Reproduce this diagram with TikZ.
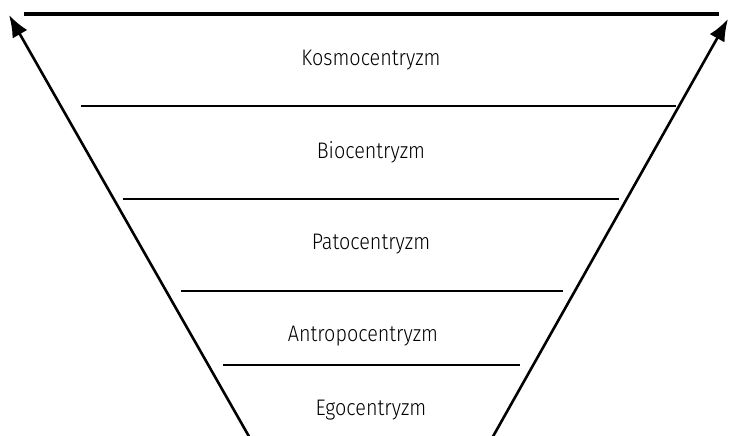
\documentclass[tikz,border=0pt]{standalone}
\usepackage{fontspec}
\setmainfont{Fira Sans Light}[FakeStretch=0.88]
\usetikzlibrary{arrows.meta}
\begin{document}
\begin{tikzpicture}[x=1pt,y=-1pt,
  level/.style={line width=2.2pt},
  side/.style={line width=2.6pt,-{Latex[length=22pt,width=17pt]}},
  lbl/.style={font=\fontsize{22.5}{26}\selectfont,text=black,inner sep=0pt}]
\useasboundingbox (0,0) rectangle (729,436);
% top line
\coordinate (t1) at (24,14);
\coordinate (t2) at (719,14);
\draw[line width=3.2pt] (t1) -- (t2);
% side arrows
\coordinate (lb) at (251,440);
\coordinate (lt) at (9,15);
\coordinate (rb) at (491,440);
\coordinate (rt) at (728,19);
\draw[side] (lb) -- (lt);
\draw[side] (rb) -- (rt);
% level lines
\coordinate (a1) at (81,106); \coordinate (a2) at (676,106);
\coordinate (b1) at (123,199); \coordinate (b2) at (619,199);
\coordinate (c1) at (181,291); \coordinate (c2) at (563,291);
\coordinate (d1) at (223,365); \coordinate (d2) at (520,365);
\draw[level] (a1) -- (a2);
\draw[level] (b1) -- (b2);
\draw[level] (c1) -- (c2);
\draw[level] (d1) -- (d2);
% labels
\node[lbl] (k) at (371,60) {Kosmocentryzm};
\node[lbl] (b) at (371,152) {Biocentryzm};
\node[lbl] (p) at (371,244) {Patocentryzm};
\node[lbl] (an) at (363,336) {Antropocentryzm};
\node[lbl] (e) at (371,410) {Egocentryzm};
\end{tikzpicture}
\end{document}
